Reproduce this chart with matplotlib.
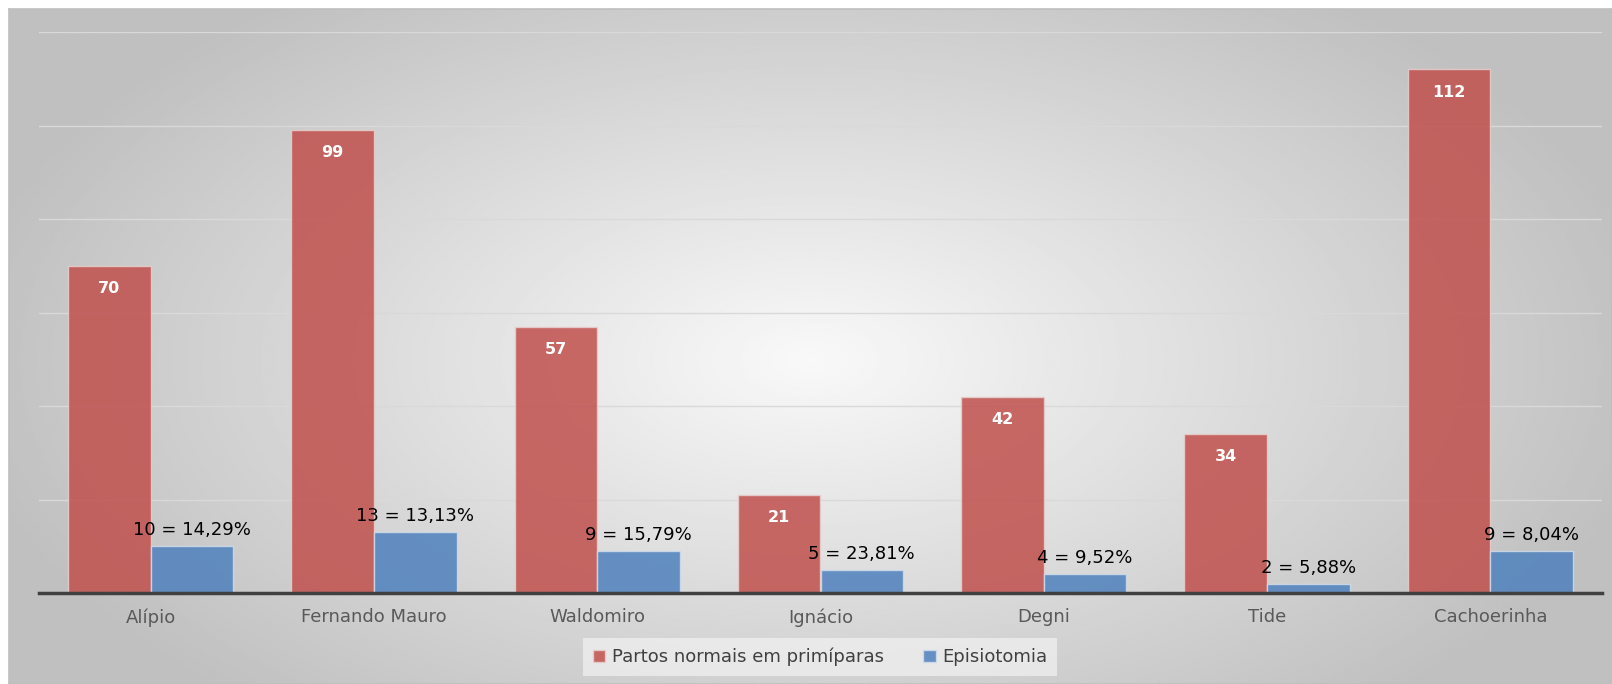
import numpy as np
import matplotlib
matplotlib.use("Agg")
import matplotlib.pyplot as plt

plt.rcParams['font.family'] = ['DejaVu Sans']

# data
bairros = ["Alípio", "Fernando Mauro", "Waldomiro", "Ignácio", "Degni", "Tide", "Cachoerinha"]
partos = [70, 99, 57, 21, 42, 34, 112]
episio = [10, 13, 9, 5, 4, 2, 9]
episio_pct = ["14,29%", "13,13%", "15,79%", "23,81%", "9,52%", "5,88%", "8,04%"]

red = "#C0504D"
blue = "#4F81BD"

fig = plt.figure(figsize=(16.12, 6.84), dpi=100)

# radial gradient background for chart area
bg = fig.add_axes([9 / 1612, 0, 1 - 9 / 1612, 1 - 9 / 684])
yy, xx = np.mgrid[0:1:300j, 0:1:700j]
r = np.sqrt(((xx - 0.5) / 0.75) ** 2 + ((yy - 0.52) / 0.95) ** 2)
r = np.clip(r / 0.72, 0, 1)
shade = 0.975 - 0.225 * r
bg.imshow(shade, cmap="gray", vmin=0, vmax=1, aspect="auto", extent=[0, 1, 0, 1], interpolation="bilinear")
bg.set_xticks([])
bg.set_yticks([])
for s in bg.spines.values():
    s.set_color("#BFBFBF")
    s.set_linewidth(1.2)
bg.set_zorder(0)

ax = fig.add_axes([39 / 1612, 1 - 593 / 684, (1602 - 39) / 1612, (593 - 32) / 684])
ax.set_zorder(1)
ax.patch.set_alpha(0)

x = np.arange(len(bairros))
w = 0.37
b1 = ax.bar(x - w / 2, partos, w, color=red, alpha=0.85, edgecolor="#E8D0D0", linewidth=1, label="Partos normais em primíparas", zorder=3)
b2 = ax.bar(x + w / 2, episio, w, color=blue, alpha=0.85, edgecolor="#D0DCEA", linewidth=1, label="Episiotomia", zorder=3)

for xi, v in zip(x, partos):
    ax.annotate(str(v), (xi - w / 2, v), xytext=(0, -11), textcoords="offset points",
                ha="center", va="top", color="white", fontsize=11.5, fontweight="bold", zorder=4)
for xi, v, p in zip(x, episio, episio_pct):
    ax.annotate(f"{v} = {p}", (xi + w / 2, v), xytext=(0, 5), textcoords="offset points",
                ha="center", va="bottom", color="black", fontsize=13, zorder=4)

ax.set_xlim(-0.5, len(bairros) - 0.5)
ax.set_ylim(0, 120)
ax.set_yticks(np.arange(20, 121, 20))
ax.yaxis.grid(True, color="#D9D9D9", linewidth=1, zorder=0)
ax.tick_params(axis="y", length=0, labelleft=False)
ax.set_xticks(x)
ax.set_xticklabels(bairros, fontsize=13, color="#595959")
ax.tick_params(axis="x", length=0, pad=11)
for s in ["top", "right", "left"]:
    ax.spines[s].set_visible(False)
ax.spines["bottom"].set_color("#404040")
ax.spines["bottom"].set_linewidth(2.5)
ax.spines["bottom"].set_zorder(5)

leg = fig.legend(handles=[b1, b2], loc="center", bbox_to_anchor=(820 / 1612, 1 - 657 / 684),
                 ncol=2, frameon=True, fontsize=13, handlelength=0.7, handleheight=0.7,
                 handletextpad=0.35, columnspacing=2.2, borderpad=0.55, borderaxespad=0, fancybox=False)
leg.get_frame().set_facecolor("#F2F2F2")
leg.get_frame().set_alpha(0.7)
leg.get_frame().set_edgecolor("none")
for t in leg.get_texts():
    t.set_color("#404040")

fig.savefig("out.png", dpi=100)
